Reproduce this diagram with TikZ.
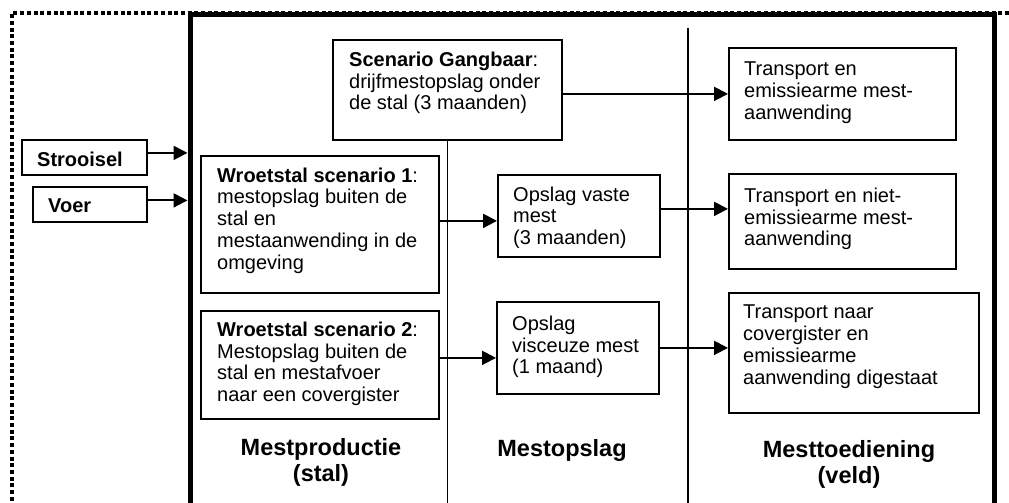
\documentclass[tikz,border=0pt]{standalone}
\usepackage{fontspec}
\setmainfont{Liberation Sans}
\usetikzlibrary{arrows.meta}
\tikzset{
  box/.style={draw, line width=1.8pt, rectangle, anchor=north west, inner sep=0pt},
  txt/.style={anchor=north west, inner sep=0pt, align=left, font=\fontsize{20}{21.8}\selectfont},
  lbl/.style={anchor=north, inner sep=0pt, align=center, font=\fontsize{23.5}{26.7}\selectfont\bfseries},
  arr/.style={line width=2pt, -{Triangle[length=14pt,width=14pt]}},
  sep/.style={line width=1.8pt},
  frame/.style={line width=5pt},
  dotframe/.style={line width=4pt, dash pattern=on 4pt off 2.7pt}
}
\begin{document}
\begin{tikzpicture}[x=1pt,y=-1pt]
\useasboundingbox (0,0) rectangle (1009,503);
% outer dotted border
\draw[dotframe] (1009,13) -- (12,13) -- (12,515);
% thick frame
\draw[frame] (190,530) -- (190,14.5) -- (994.5,14.5) -- (994.5,530);
\coordinate (frL) at (187.5,0);
\coordinate (bot) at (0,510);
\coordinate (top2) at (688,28);

% boxes
\node[box, minimum width=125pt, minimum height=35pt] (stro) at (21,139) {};
\node[box, minimum width=114pt, minimum height=35pt] (voer) at (32,186) {};
\node[box, minimum width=229pt, minimum height=100pt] (gang) at (332,39) {};
\node[box, minimum width=238pt, minimum height=137pt] (w1) at (200,155) {};
\node[box, minimum width=238pt, minimum height=108pt] (w2) at (200,310) {};
\node[box, minimum width=162pt, minimum height=82pt] (ov) at (497,174) {};
\node[box, minimum width=162pt, minimum height=92pt] (vis) at (496,301) {};
\node[box, minimum width=227pt, minimum height=92pt] (t1) at (728,47) {};
\node[box, minimum width=227pt, minimum height=95pt] (t2) at (728,173) {};
\node[box, minimum width=250pt, minimum height=120pt] (t3) at (728,292) {};

% separators
\draw[sep] (gang.south) -- (gang.south |- bot);
\draw[sep] (top2) -- (top2 |- bot);

% texts
\node[txt, font=\fontsize{20}{21.8}\selectfont\bfseries] (strotxt) at (37,151.5) {Strooisel};
\node[txt, font=\fontsize{20}{21.8}\selectfont\bfseries] (voertxt) at (48,198.3) {Voer};
\node[txt] (gangtxt) at (349,51.7) {\textbf{Scenario Gangbaar}:\\drijfmestopslag onder\\de stal (3 maanden)};
\node[txt] (w1txt) at (217,167.4) {\textbf{Wroetstal scenario 1}:\\mestopslag buiten de\\stal en\\mestaanwending in de\\omgeving};
\node[txt] (w2txt) at (217,321.7) {\textbf{Wroetstal scenario 2}:\\Mestopslag buiten de\\stal en mestafvoer\\naar een covergister};
\begin{scope}
\clip (ov.north west) rectangle ([yshift=10pt]ov.south east);
\node[txt] (ovtxt) at (513,186.4) {Opslag vaste\\mest\\(3 maanden)};
\end{scope}
\node[txt] (vistxt) at (512,315.7) {Opslag\\visceuze mest\\(1 maand)};
\node[txt] (t1txt) at (744,61.7) {Transport en\\emissiearme mest-\\aanwending};
\node[txt] (t2txt) at (744,187.7) {Transport en niet-\\emissiearme mest-\\aanwending};
\node[txt] (t3txt) at (743,304.7) {Transport naar\\covergister en\\emissiearme\\aanwending digestaat};

\node[lbl] (lab1) at (321,438) {Mestproductie\\(stal)};
\node[lbl] (lab2) at (562,439.5) {Mestopslag};
\node[lbl] (lab3) at (849,440) {Mesttoediening\\(veld)};

% arrows
\draw[arr] ([yshift=4.5pt]stro.east) -- ([yshift=4.5pt]stro.east -| frL);
\draw[arr] ([yshift=4pt]voer.east) -- ([yshift=4pt]voer.east -| frL);
\draw[arr] (gang.east |- t1.west) -- (t1.west);
\draw[arr] ([yshift=3.5pt]w1.east) -- ([yshift=3.5pt]w1.east -| ov.west);
\draw[arr] ([yshift=7pt]ov.east) -- ([yshift=7pt]ov.east -| t2.west);
\draw[arr] ([yshift=7pt]w2.east) -- ([yshift=7pt]w2.east -| vis.west);
\draw[arr] (vis.east) -- (vis.east -| t3.west);
\end{tikzpicture}
\end{document}
